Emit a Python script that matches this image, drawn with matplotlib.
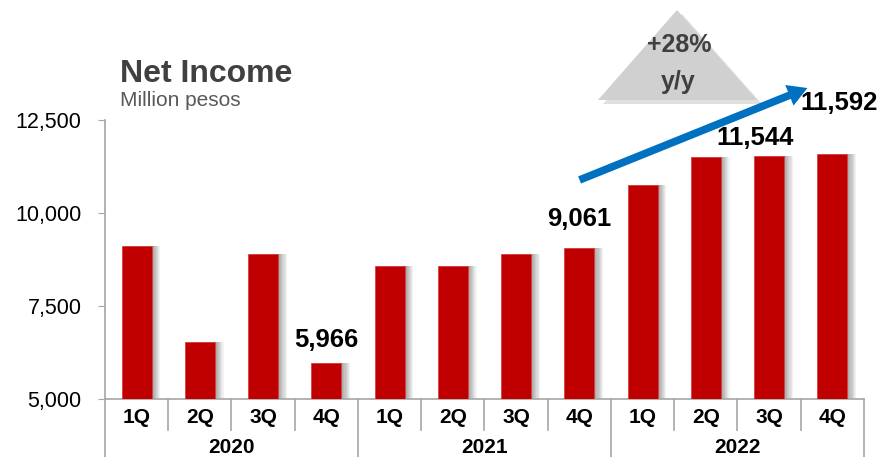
import matplotlib.pyplot as plt
from matplotlib.patches import Polygon, FancyArrowPatch
from matplotlib.transforms import blended_transform_factory

plt.rcParams['font.family'] = ['Liberation Sans', 'DejaVu Sans']

quarters = ['1Q', '2Q', '3Q', '4Q'] * 3
years = ['2020', '2021', '2022']
income = [9110, 6530, 8890, 5966, 8570, 8570, 8890, 9061, 10750, 11500, 11544, 11592]
labelled = {3: '5,966', 7: '9,061', 10: '11,544', 11: '11,592'}
label_shift = {3: (0, 8), 7: (0, 12), 10: (-10, 4), 11: (5, 28)}
yticks = [5000, 7500, 10000, 12500]

red = '#C00000'
grid = '#A6A6A6'
dark = '#404040'

fig = plt.figure(figsize=(8.79, 4.57), dpi=100)
ax = fig.add_axes([105 / 879, 1 - 399 / 457, 759 / 879, 372 / 457])
x = list(range(len(income)))

# soft shadow on the right of each bar
for k in range(7):
    ax.bar([i + 0.03 + k * 0.018 for i in x], [v - 5000 for v in income], bottom=5000,
           width=0.475, color='#000000', alpha=0.05, zorder=1, linewidth=0)
ax.bar(x, [v - 5000 for v in income], bottom=5000, width=0.475, color=red,
       edgecolor='#D84040', linewidth=0.6, zorder=3)

for i, txt in labelled.items():
    dx, dy = label_shift[i]
    ax.annotate(txt, (i, income[i]), xytext=(dx, dy), textcoords='offset points',
                ha='center', va='bottom', fontsize=18.5, fontweight='bold', color='black',
                annotation_clip=False, zorder=5)

ax.set_xlim(-0.5, 11.5)
ax.set_ylim(5000, 15000)
ax.set_yticks(yticks)
ax.set_yticklabels([f'{t:,}' for t in yticks], fontsize=15.5, color='black')
ax.tick_params(axis='y', length=5, color=grid, pad=12)
ax.set_xticks([])
for s in ['top', 'right']:
    ax.spines[s].set_visible(False)
ax.spines['left'].set_bounds(5000, 12500)
ax.spines['left'].set_color(grid)
ax.spines['bottom'].set_color(grid)
ax.spines['left'].set_linewidth(1.2)
ax.spines['bottom'].set_linewidth(1.2)

# category axis: quarters and years
tr = blended_transform_factory(ax.transData, ax.transAxes)
for i in range(13):
    low = -0.16 if i % 4 == 0 else -0.083
    ax.plot([i - 0.5, i - 0.5], [0, low], transform=tr, color=grid, lw=1.2, clip_on=False)
for i, q in enumerate(quarters):
    ax.text(i, -0.051, q, transform=tr, ha='center', va='center', fontsize=15,
            fontweight='bold', color='black')
for j, yr in enumerate(years):
    ax.text(4 * j + 1.5, -0.131, yr, transform=tr, ha='center', va='center', fontsize=15,
            fontweight='bold', color='black')

# title
fig.text(120 / 879, 1 - 74 / 457, 'Net Income', fontsize=23, fontweight='bold',
         color=dark, ha='left', va='center')
fig.text(120 / 879, 1 - 101 / 457, 'Million pesos', fontsize=15, color='#595959',
         ha='left', va='center')

# growth triangle
tri_shadow = Polygon([(603 / 879, 1 - 104 / 457), (762 / 879, 1 - 104 / 457), (682 / 879, 1 - 14 / 457)],
                     closed=True, transform=fig.transFigure, color='#000000', alpha=0.12, lw=0)
tri = Polygon([(598 / 879, 1 - 100 / 457), (757 / 879, 1 - 100 / 457), (677 / 879, 1 - 10 / 457)],
              closed=True, transform=fig.transFigure, color='#D0D0D0', lw=0)
fig.patches.extend([tri_shadow, tri])
fig.text(679 / 879, 1 - 45 / 457, '+28%', fontsize=18, fontweight='bold', color=dark,
         ha='center', va='center')
fig.text(678 / 879, 1 - 82 / 457, 'y/y', fontsize=18, fontweight='bold', color=dark,
         ha='center', va='center')

# trend arrow
arrow = FancyArrowPatch((577 / 879, 1 - 181 / 457), (810 / 879, 1 - 87 / 457),
                        transform=fig.transFigure, arrowstyle='simple,head_length=14,head_width=16,tail_width=5.5',
                        color='#0070C0', lw=0, zorder=6)
fig.patches.append(arrow)

fig.savefig('out.png', dpi=100)
